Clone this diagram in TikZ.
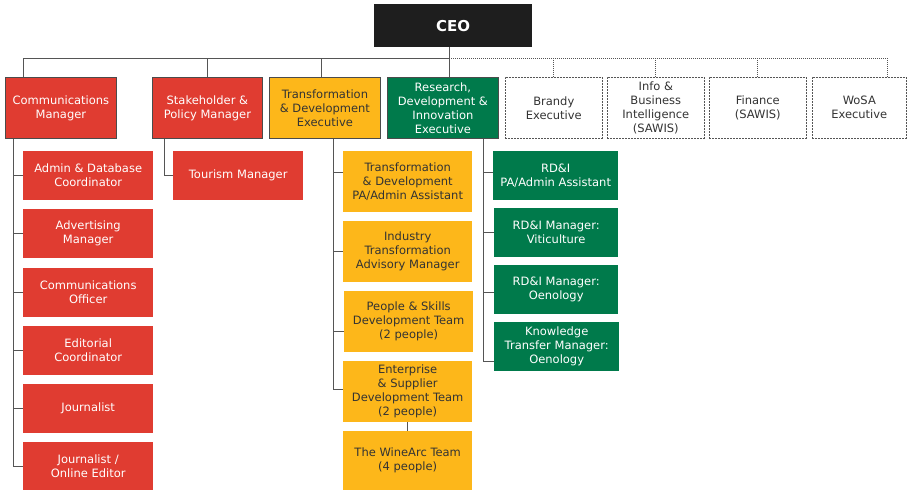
\documentclass[tikz,border=0pt]{standalone}
\usepackage{fontspec}
\setmainfont{DejaVu Sans}
\usetikzlibrary{calc}
\definecolor{orgred}{RGB}{224,60,49}
\definecolor{orgyellow}{RGB}{253,183,26}
\definecolor{orggreen}{RGB}{0,122,75}
\definecolor{orgblack}{RGB}{30,30,30}
\definecolor{orgline}{RGB}{85,85,85}
\definecolor{orgtext}{RGB}{51,51,51}

\tikzset{
	box/.style={anchor=north west, inner sep=0pt, align=center, font=\fontsize{11.5}{14}\selectfont},
	redbox/.style={box, fill=orgred, text=white},
	yellowbox/.style={box, fill=orgyellow, text=orgtext},
	greenbox/.style={box, fill=orggreen, text=white},
	headbox/.style={draw=orgblack!80, line width=0.8pt},
	dashbox/.style={box, draw=orgline, dash pattern=on 2pt off 1pt, line width=0.6pt, text=orgtext},
	link/.style={draw=orgline, line width=1pt},
	dotlink/.style={draw=orgline, dash pattern=on 1pt off 1pt, line width=0.7pt}
}

\begin{document}
\begin{tikzpicture}[x=1pt, y=-1pt]
	\useasboundingbox (0,0) rectangle (908,490);
	% top
	\node[box, fill=orgblack, text=white, font=\fontsize{15}{18}\selectfont\bfseries,
		minimum width=158pt, minimum height=43pt] (ceo) at (374,4) {CEO};
	% direct reports
	\node[redbox, headbox, minimum width=111pt, minimum height=61pt] (comm) at (5,77) {Communications\\Manager};
	\node[redbox, headbox, minimum width=110pt, minimum height=61pt] (stake) at (152,77) {Stakeholder \&\\Policy Manager};
	\node[yellowbox, headbox, minimum width=111pt, minimum height=61pt] (trans) at (269,77) {Transformation\\\& Development\\Executive};
	\node[greenbox, headbox, minimum width=111pt, minimum height=61pt] (rdi) at (387,77) {Research,\\Development \&\\Innovation\\Executive};
	\node[dashbox, minimum width=97pt, minimum height=61pt] (brandy) at (505,77) {Brandy\\Executive};
	\node[dashbox, minimum width=97pt, minimum height=61pt] (info) at (607,77) {Info \&\\Business\\Intelligence\\(SAWIS)};
	\node[dashbox, minimum width=97pt, minimum height=61pt] (fin) at (709,77) {Finance\\(SAWIS)};
	\node[dashbox, minimum width=94pt, minimum height=61pt] (wosa) at (812,77) {WoSA\\Executive};
	% communications
	\node[redbox, minimum width=130pt, minimum height=49pt] (adm) at (23,151) {Admin \& Database\\Coordinator};
	\node[redbox, minimum width=130pt, minimum height=49pt] (adv) at (23,209) {Advertising\\Manager};
	\node[redbox, minimum width=130pt, minimum height=49pt] (off) at (23,268) {Communications\\Officer};
	\node[redbox, minimum width=130pt, minimum height=49pt] (edi) at (23,326) {Editorial\\Coordinator};
	\node[redbox, minimum width=130pt, minimum height=49pt] (jou) at (23,384) {Journalist};
	\node[redbox, minimum width=130pt, minimum height=48pt] (jon) at (23,442) {Journalist /\\Online Editor};
	% stakeholder
	\node[redbox, minimum width=130pt, minimum height=49pt] (tour) at (173,151) {Tourism Manager};
	% transformation
	\node[yellowbox, minimum width=129pt, minimum height=61pt] (tpa) at (343,151) {Transformation\\\& Development\\PA/Admin Assistant};
	\node[yellowbox, minimum width=129pt, minimum height=61pt] (ind) at (343,221) {Industry\\Transformation\\Advisory Manager};
	\node[yellowbox, minimum width=129pt, minimum height=61pt] (ppl) at (344,291) {People \& Skills\\Development Team\\(2 people)};
	\node[yellowbox, minimum width=129pt, minimum height=61pt] (ent) at (343,361) {Enterprise\\\& Supplier\\Development Team\\(2 people)};
	\node[yellowbox, minimum width=129pt, minimum height=59pt] (wine) at (343,431) {The WineArc Team\\(4 people)};
	% research
	\node[greenbox, minimum width=125pt, minimum height=49pt] (rpa) at (493,151) {RD\&I\\PA/Admin Assistant};
	\node[greenbox, minimum width=124pt, minimum height=49pt] (vit) at (494,208) {RD\&I Manager:\\Viticulture};
	\node[greenbox, minimum width=124pt, minimum height=49pt] (oen) at (494,265) {RD\&I Manager:\\Oenology};
	\node[greenbox, minimum width=125pt, minimum height=49pt] (kno) at (494,322) {Knowledge\\Transfer Manager:\\Oenology};

	% ceo lines
	\draw[link] ($(ceo.south west)+(75,0)$) coordinate (hub) -- (hub |- rdi.north);
	\coordinate (bus) at ($(hub)+(0,11)$);
	\draw[link] (bus) -| ($(comm.north west)+(18,0)$);
	\draw[link] (bus) -| (stake.north);
	\draw[link] (bus) -| ($(trans.north west)+(52,0)$);
	\draw[dotlink] (bus) -| ($(wosa.north west)+(75,0)$);
	\foreach \n in {brandy,info,fin}
		\draw[dotlink] (\n.north) -- (\n.north |- bus);
	% communications
	\draw[link] ($(comm.south west)+(8,0)$) coordinate (cspine) |- (jon.west);
	\foreach \n in {adm,adv,off,edi,jou}
		\draw[link] (\n.west) -- (\n.west -| cspine);
	% stakeholder
	\draw[link] ($(stake.south west)+(12,0)$) |- (tour.west);
	% transformation
	\draw[link] ($(trans.south west)+(64,0)$) coordinate (tspine) |- ($(ent.west)+(0,-2)$);
	\draw[link] ($(tpa.west)+(0,-9)$) -- ++(-10,0);
	\draw[link] (ind.west) -- (ind.west -| tspine);
	\draw[link] ($(ppl.west)+(0,10)$) -- ++(-11,0);
	\draw[link] (ent.south) -- (wine.north);
	% research
	\draw[link] ($(rdi.south west)+(96,0)$) coordinate (rspine) |- ($(kno.west)+(0,15)$);
	\draw[link] ($(rpa.west)+(0,-3)$) -- ++(-10,0);
	\draw[link] (vit.west) -- (vit.west -| rspine);
	\draw[link] ($(oen.west)+(0,3)$) -- ++(-11,0);
\end{tikzpicture}
\end{document}
